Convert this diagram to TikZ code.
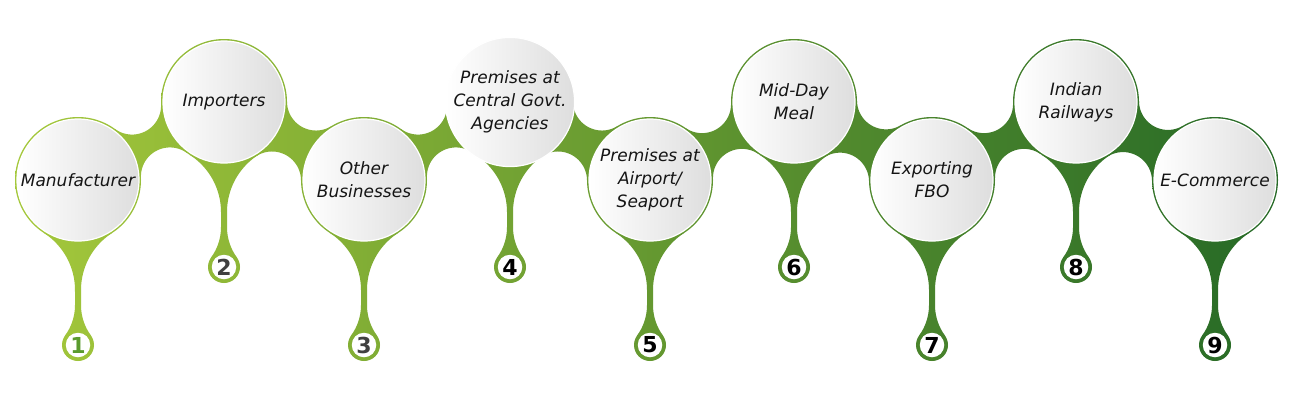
\documentclass[tikz,border=0pt]{standalone}
\usepackage{fontspec}
\setmainfont{DejaVu Sans}
\definecolor{gA}{HTML}{A6C93B}
\definecolor{gB}{HTML}{5E9A2F}
\definecolor{gC}{HTML}{246826}
\definecolor{txtc}{HTML}{151515}
\definecolor{numgreen}{HTML}{5A9B2E}
\definecolor{numgray}{HTML}{404040}
\tikzset{
  greenshade/.style={left color=gA, middle color=gB, right color=gC, draw=none},
  bubble/.style={circle, minimum size=122pt, inner sep=0pt, left color=white, right color=black!13,
    draw=white, line width=1.2pt, align=center, font=\fontsize{17}{23}\selectfont\itshape, text=txtc},
  badge/.style={circle, minimum size=24.5pt, inner sep=0pt, fill=white,
    font=\fontsize{22}{22}\selectfont\bfseries, text=black},
}
% bridge between two circle centres (outer green radius 63, fillet radius 29)
\newcommand\mkbridge[4]{%
  \pgfmathsetmacro\bdx{#3-#1}%
  \pgfmathsetmacro\bdy{#4-#2}%
  \pgfmathsetmacro\bd{10*sqrt((\bdx/10)^2+(\bdy/10)^2)}%
  \pgfmathsetmacro\bux{\bdx/\bd}%
  \pgfmathsetmacro\buy{\bdy/\bd}%
  \pgfmathsetmacro\bh{10*sqrt(9.2^2-(\bd/20)^2)}%
  \pgfmathsetmacro\bmx{(#1+#3)/2}%
  \pgfmathsetmacro\bmy{(#2+#4)/2}%
  \pgfmathsetmacro\bax{\bmx-\bh*\buy}%
  \pgfmathsetmacro\bay{\bmy+\bh*\bux}%
  \pgfmathsetmacro\bbx{\bmx+\bh*\buy}%
  \pgfmathsetmacro\bby{\bmy-\bh*\bux}%
  \pgfmathsetmacro\aone{atan2(#2-\bay,#1-\bax)}%
  \pgfmathsetmacro\atwo{atan2(#4-\bay,#3-\bax)}%
  \pgfmathsetmacro\atwo{\atwo+360*((\atwo-\aone)<(-180))-360*((\atwo-\aone)>180)}%
  \pgfmathsetmacro\bone{atan2(#2-\bby,#1-\bbx)}%
  \pgfmathsetmacro\btwo{atan2(#4-\bby,#3-\bbx)}%
  \pgfmathsetmacro\bone{\bone+360*((\bone-\btwo)<(-180))-360*((\bone-\btwo)>180)}%
  \begin{scope}
    \clip (#1,#2) -- plot[domain=\aone:\atwo,samples=40] ({\bax+29*cos(\x)},{\bay+29*sin(\x)})
      -- (#3,#4) -- plot[domain=\btwo:\bone,samples=40] ({\bbx+29*cos(\x)},{\bby+29*sin(\x)}) -- cycle;
    \shade[greenshade] (0,0) rectangle (1293,400);
  \end{scope}
}
\begin{document}
\begin{tikzpicture}[x=1pt,y=-1pt]
\useasboundingbox (0,0) rectangle (1293,400);
\fill[white] (0,0) rectangle (1293,400);

% bridges
\mkbridge{78}{180}{224}{102}
\mkbridge{224}{102}{364}{180}
\mkbridge{364}{180}{510}{102}
\mkbridge{510}{102}{650}{180}
\mkbridge{650}{180}{794}{102}
\mkbridge{794}{102}{932}{180}
\mkbridge{932}{180}{1076}{102}
\mkbridge{1076}{102}{1215}{180}

% stems, green rings and badge rings
\foreach \cx/\cy in {78/180,224/102,364/180,510/102,650/180,794/102,932/180,1076/102,1215/180}{
  \begin{scope}
    \clip ({\cx},{\cy})
      -- plot[domain=-57.18:0,samples=30] ({\cx-71+68*cos(\x)},{\cy+110.09+68*sin(\x)})
      -- plot[domain=0:36.03,samples=20] ({\cx-55+52*cos(\x)},{\cy+125+52*sin(\x)})
      -- ({\cx},{\cy+165})
      -- plot[domain=143.97:180,samples=20] ({\cx+55+52*cos(\x)},{\cy+125+52*sin(\x)})
      -- plot[domain=180:237.18,samples=30] ({\cx+71+68*cos(\x)},{\cy+110.09+68*sin(\x)})
      -- cycle;
    \shade[greenshade] (0,0) rectangle (1293,400);
  \end{scope}
  \begin{scope}
    \clip ({\cx},{\cy}) circle[radius=63] ({\cx},{\cy+165}) circle[radius=16];
    \shade[greenshade] (0,0) rectangle (1293,400);
  \end{scope}
}

% bubbles
\node[bubble] (b1) at (78,180)   {Manufacturer};
\node[bubble] (b2) at (224,102)  {Importers};
\node[bubble] (b3) at (364,180)  {Other\\Businesses};
\node[bubble] (b4) at (510,102)  {Premises at\\Central Govt.\\Agencies};
\node[bubble] (b5) at (650,180)  {Premises at\\Airport/\\Seaport};
\node[bubble] (b6) at (794,102)  {Mid-Day\\Meal};
\node[bubble] (b7) at (932,180)  {Exporting\\FBO};
\node[bubble] (b8) at (1076,102) {Indian\\Railways};
\node[bubble] (b9) at (1215,180) {E-Commerce};

% number badges
\node[badge, text=numgreen] (n1) at (78,345)  {1};
\node[badge, text=numgray]  (n2) at (224,267) {2};
\node[badge, text=numgray]  (n3) at (364,345) {3};
\node[badge] (n4) at (510,267)  {4};
\node[badge] (n5) at (650,345)  {5};
\node[badge] (n6) at (794,267)  {6};
\node[badge] (n7) at (932,345)  {7};
\node[badge] (n8) at (1076,267) {8};
\node[badge] (n9) at (1215,345) {9};
\end{tikzpicture}
\end{document}
